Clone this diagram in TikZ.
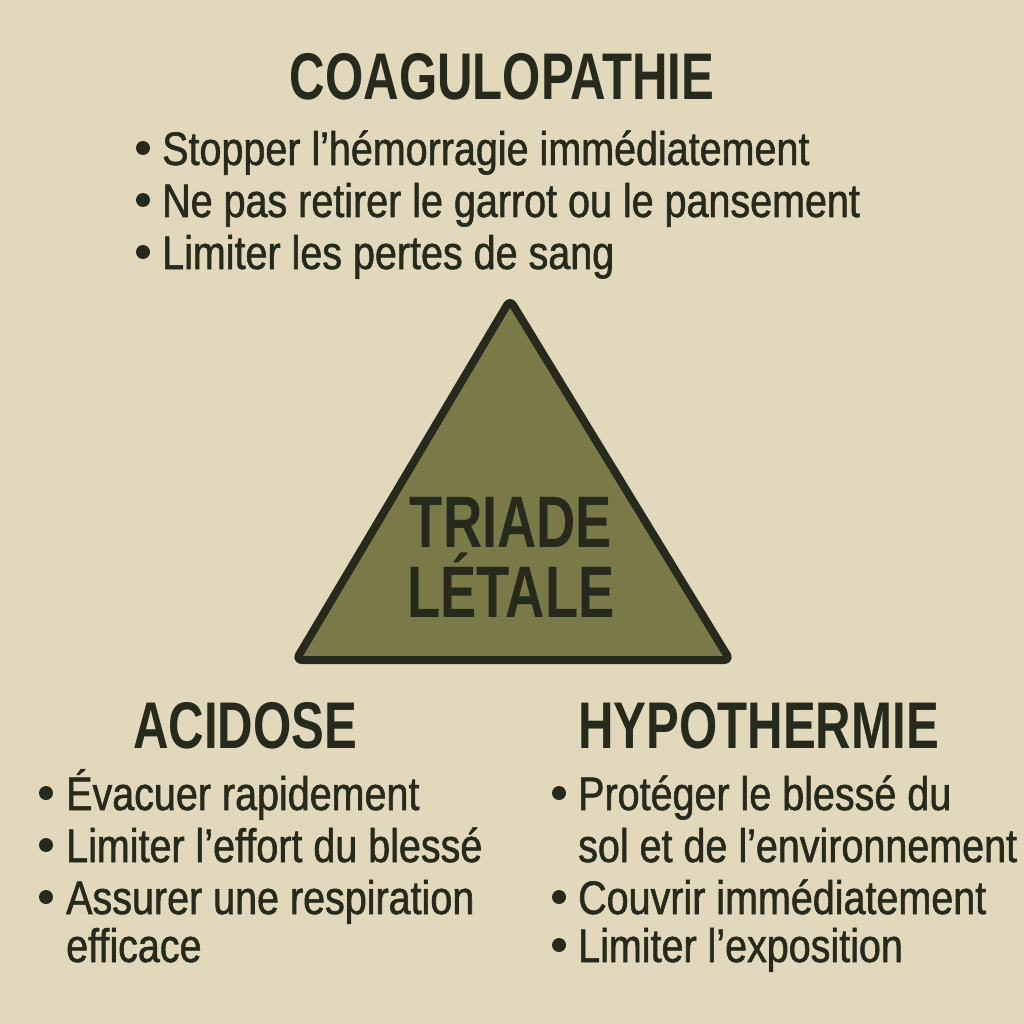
\documentclass[tikz,border=0pt]{standalone}
\usepackage{fontspec}
\setmainfont{Liberation Sans}[FakeStretch=0.84,FakeBold=1.2]
\newfontfamily\headfont{Liberation Sans}[FakeStretch=0.745,BoldFont={Liberation Sans Bold}]
\definecolor{sand}{HTML}{E2D9BD}
\definecolor{ink}{HTML}{262A1C}
\definecolor{olive}{HTML}{7A7A48}
\tikzset{
  head/.style={font=\headfont\bfseries\fontsize{66}{66}\selectfont, text=ink, inner sep=0pt},
  item/.style={font=\fontsize{47}{47}\selectfont, text=ink, inner sep=0pt, anchor=base west},
  dot/.style={fill=ink}
}
\begin{document}
\begin{tikzpicture}[x=1pt,y=-1pt]
      % Background
      \fill[sand] (0,0) rectangle (1024,1024);
      \useasboundingbox (0,0) rectangle (1024,1024);

      % Triangle
      \draw[color=ink, line width=8pt, fill=olive, rounded corners=6pt, line join=round]
        (510,300) -- (730,660) -- (296,660) -- cycle
      ;
      \node[head, font=\headfont\bfseries\fontsize{73}{73}\selectfont, anchor=base] (triade) at (511,547) {TRIADE};
      \node[head, font=\headfont\bfseries\fontsize{73}{73}\selectfont, anchor=base] (letale) at (511,617) {LÉTALE};

      % Coagulopathie
      \node[head, anchor=base] (coag) at (502,100) {COAGULOPATHIE};
      \node[item] (c1) at (162,165) {Stopper l’hémorragie immédiatement};
      \node[item] (c2) at (162,217) {Ne pas retirer le garrot ou le pansement};
      \node[item] (c3) at (162,269) {Limiter les pertes de sang};
      \fill[dot] (143,148) circle (7) (143,200) circle (7) (143,252) circle (7);

      % Acidose
      \node[head, anchor=base west] (acid) at (133,748) {ACIDOSE};
      \node[item] (a1) at (66,810) {Évacuer rapidement};
      \node[item] (a2) at (66,862) {Limiter l’effort du blessé};
      \node[item] (a3) at (66,914) {Assurer une respiration};
      \node[item] (a4) at (66,962) {efficace};
      \fill[dot] (46,793) circle (7) (46,845) circle (7) (46,897) circle (7);

      % Hypothermie
      \node[head, anchor=base west] (hypo) at (578,748) {HYPOTHERMIE};
      \node[item] (h1) at (578,810) {Protéger le blessé du};
      \node[item] (h2) at (578,862) {sol et de l’environnement};
      \node[item] (h3) at (578,914) {Couvrir immédiatement};
      \node[item] (h4) at (578,962) {Limiter l’exposition};
      \fill[dot] (559,793) circle (7) (559,897) circle (7) (559,945) circle (7);
\end{tikzpicture}
\end{document}
